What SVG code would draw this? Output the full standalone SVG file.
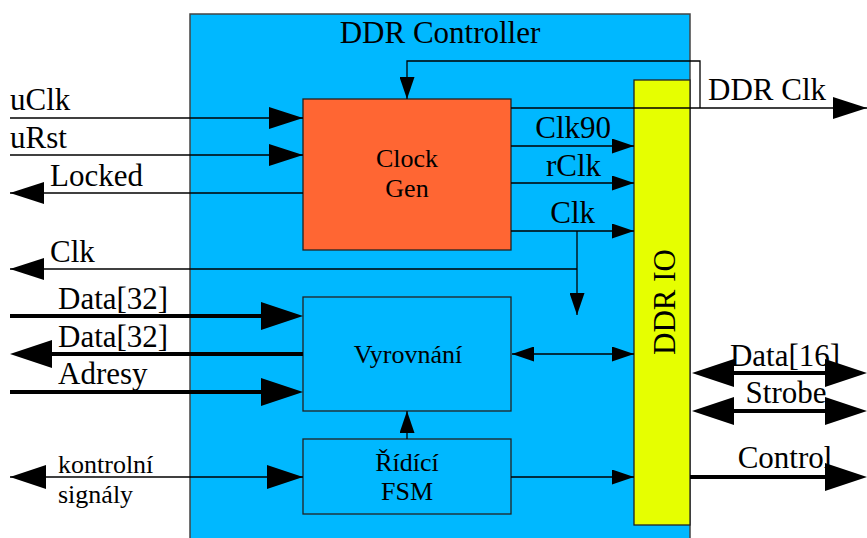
<svg xmlns="http://www.w3.org/2000/svg" width="867" height="538" viewBox="0 0 867 538" font-family="'Liberation Serif', 'DejaVu Serif', serif">
<style>
text{font-family:'Liberation Serif','DejaVu Serif',serif;fill:#000}
.big{font-size:31px}
.mid{font-size:26px}
.c{text-anchor:middle}
.e{text-anchor:end}
.box{stroke:#222;stroke-width:1.3}
.thin{stroke:#000;stroke-width:1.3;fill:none}
.thick{stroke:#000;stroke-width:4;fill:none}
</style>
<defs>
<marker id="s" markerUnits="userSpaceOnUse" viewBox="0 0 22 15" refX="22" refY="7.5" markerWidth="22" markerHeight="15" orient="auto-start-reverse"><path d="M0,0L22,7.5L0,15z"/></marker>
<marker id="m" markerUnits="userSpaceOnUse" viewBox="0 0 34 22" refX="34" refY="11" markerWidth="34" markerHeight="22" orient="auto-start-reverse"><path d="M0,0L34,11L0,22z"/></marker>
<marker id="k" markerUnits="userSpaceOnUse" viewBox="0 0 36 24" refX="36" refY="12" markerWidth="36" markerHeight="24" orient="auto-start-reverse"><path d="M0,0L36,12L0,24z"/></marker>
<marker id="l" markerUnits="userSpaceOnUse" viewBox="0 0 42 28" refX="36" refY="14" markerWidth="42" markerHeight="28" orient="auto-start-reverse"><path d="M0,0L42,14L0,28z"/></marker>
</defs>

<g id="controller">
<rect x="190" y="14" width="500" height="540" fill="#00b8ff" stroke="#444" stroke-width="1.5"/>
<text class="big c" x="440" y="43">DDR Controller</text>
</g>

<g id="clockgen">
<rect class="box" x="303" y="99" width="208" height="151" fill="#ff6633"/>
<text class="mid c" x="407" y="167">Clock</text>
<text class="mid c" x="407" y="197">Gen</text>
</g>

<g id="vyrovnani">
<rect class="box" x="303" y="297" width="208" height="114" fill="#00b8ff"/>
<text class="mid c" x="408" y="363">Vyrovnání</text>
</g>

<g id="fsm">
<rect class="box" x="303" y="439" width="208" height="75" fill="#00b8ff"/>
<text class="mid c" x="407" y="471">Řídící</text>
<text class="mid c" x="407" y="500">FSM</text>
</g>

<g id="ddrio">
<rect class="box" x="634" y="80" width="56" height="445" fill="#e6ff00"/>
<text class="big c" transform="translate(675,302) rotate(-90)">DDR IO</text>
</g>

<g id="connectors">
<path class="thin" d="M10,118H303" marker-end="url(#m)"/>
<path class="thin" d="M10,155H303" marker-end="url(#m)"/>
<path class="thin" d="M303,193H10" marker-end="url(#m)"/>
<path class="thin" d="M511,108H867" marker-end="url(#m)"/>
<path class="thin" d="M700,108V61H407V99" marker-end="url(#s)"/>
<path class="thin" d="M511,146H634" marker-end="url(#s)"/>
<path class="thin" d="M511,183H634" marker-end="url(#s)"/>
<path class="thin" d="M511,231H634" marker-end="url(#s)"/>
<path class="thin" d="M577,231V315" marker-end="url(#s)"/>
<path class="thin" d="M577,269H10" marker-end="url(#m)"/>
<path class="thin" d="M512,354H634" marker-start="url(#s)" marker-end="url(#s)"/>
<path class="thin" d="M407,439V411" marker-end="url(#s)"/>
<path class="thin" d="M511,477H634" marker-end="url(#s)"/>
<path class="thin" d="M10,477H303" marker-start="url(#k)" marker-end="url(#k)"/>
<path class="thick" d="M10,316H297" marker-end="url(#l)"/>
<path class="thick" d="M303,354H16" marker-end="url(#l)"/>
<path class="thick" d="M10,392H297" marker-end="url(#l)"/>
<path class="thick" d="M698,373H861" marker-start="url(#l)" marker-end="url(#l)"/>
<path class="thick" d="M698,411H861" marker-start="url(#l)" marker-end="url(#l)"/>
<path class="thick" d="M690,477H861" marker-end="url(#l)"/>
</g>

<g id="labels">
<text class="big" x="10" y="110">uClk</text>
<text class="big" x="10" y="148">uRst</text>
<text class="big" x="50" y="186">Locked</text>
<text class="big" x="50" y="262">Clk</text>
<text class="big" x="58" y="309">Data[32]</text>
<text class="big" x="58" y="347">Data[32]</text>
<text class="big" x="58" y="384">Adresy</text>
<text class="mid" x="58" y="473">kontrolní</text>
<text class="mid" x="58" y="503">signály</text>
<text class="big e" x="611" y="138">Clk90</text>
<text class="big e" x="601" y="176">rClk</text>
<text class="big e" x="595" y="223">Clk</text>
<text class="big" x="708" y="100">DDR Clk</text>
<text class="big c" x="785" y="366">Data[16]</text>
<text class="big c" x="786" y="403">Strobe</text>
<text class="big c" x="785" y="468">Control</text>
</g>
</svg>
